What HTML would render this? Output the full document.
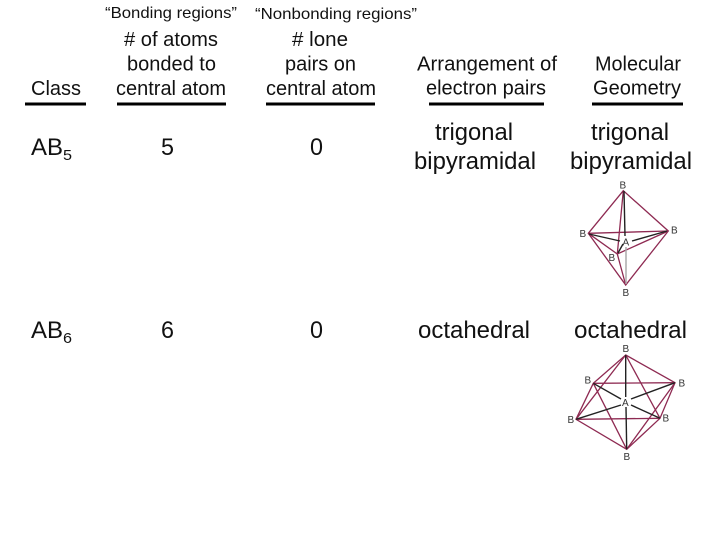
<!DOCTYPE html>
<html>
<head>
<meta charset="utf-8">
<style>
html,body{margin:0;padding:0;background:#fff;}
svg{display:block;}
text{font-family:"Liberation Sans",sans-serif;fill:#111;}
.h{font-size:20px;}
.b{font-size:24px;}
.c{font-size:16px;}
.l{font-size:10px;fill:#333;}
</style>
</head>
<body>
<svg width="720" height="540" viewBox="0 0 720 540" xmlns="http://www.w3.org/2000/svg">
<rect width="720" height="540" fill="#fff"/>

<text class="c" x="105" y="18" textLength="132" lengthAdjust="spacingAndGlyphs">“Bonding regions”</text>
<text class="c" x="255" y="19" textLength="162" lengthAdjust="spacingAndGlyphs">“Nonbonding regions”</text>

<text class="h" x="31" y="95" textLength="50" lengthAdjust="spacingAndGlyphs">Class</text>
<text class="h" x="124" y="46" textLength="94" lengthAdjust="spacingAndGlyphs"># of atoms</text>
<text class="h" x="127" y="70.5" textLength="89" lengthAdjust="spacingAndGlyphs">bonded to</text>
<text class="h" x="116" y="95" textLength="110" lengthAdjust="spacingAndGlyphs">central atom</text>
<text class="h" x="292" y="46" textLength="56" lengthAdjust="spacingAndGlyphs"># lone</text>
<text class="h" x="285" y="70.5" textLength="71" lengthAdjust="spacingAndGlyphs">pairs on</text>
<text class="h" x="266" y="95" textLength="110" lengthAdjust="spacingAndGlyphs">central atom</text>
<text class="h" x="417" y="70.5" textLength="140" lengthAdjust="spacingAndGlyphs">Arrangement of</text>
<text class="h" x="426" y="94.5" textLength="120" lengthAdjust="spacingAndGlyphs">electron pairs</text>
<text class="h" x="595" y="70.5" textLength="86" lengthAdjust="spacingAndGlyphs">Molecular</text>
<text class="h" x="593" y="94.5" textLength="88" lengthAdjust="spacingAndGlyphs">Geometry</text>

<g fill="#000">
<rect x="25" y="102.5" width="61" height="3"/>
<rect x="117" y="102.5" width="109" height="3"/>
<rect x="266" y="102.5" width="109" height="3"/>
<rect x="429" y="102.5" width="115" height="3"/>
<rect x="592" y="102.5" width="91" height="3"/>
</g>

<text class="b" x="31" y="155" textLength="32" lengthAdjust="spacingAndGlyphs">AB</text>
<text x="63" y="160" font-size="15" textLength="9" lengthAdjust="spacingAndGlyphs">5</text>
<text class="b" x="161" y="155" textLength="13" lengthAdjust="spacingAndGlyphs">5</text>
<text class="b" x="310" y="155" textLength="13" lengthAdjust="spacingAndGlyphs">0</text>
<text class="b" x="435" y="140" textLength="78" lengthAdjust="spacingAndGlyphs">trigonal</text>
<text class="b" x="414" y="169" textLength="122" lengthAdjust="spacingAndGlyphs">bipyramidal</text>
<text class="b" x="591" y="140" textLength="78" lengthAdjust="spacingAndGlyphs">trigonal</text>
<text class="b" x="570" y="169" textLength="122" lengthAdjust="spacingAndGlyphs">bipyramidal</text>

<text class="b" x="31" y="338" textLength="32" lengthAdjust="spacingAndGlyphs">AB</text>
<text x="63" y="343" font-size="15" textLength="9" lengthAdjust="spacingAndGlyphs">6</text>
<text class="b" x="161" y="338" textLength="13" lengthAdjust="spacingAndGlyphs">6</text>
<text class="b" x="310" y="338" textLength="13" lengthAdjust="spacingAndGlyphs">0</text>
<text class="b" x="418" y="338" textLength="112" lengthAdjust="spacingAndGlyphs">octahedral</text>
<text class="b" x="574" y="338" textLength="113" lengthAdjust="spacingAndGlyphs">octahedral</text>

<!-- trigonal bipyramid -->
<g fill="none" stroke="#8e2a52" stroke-width="1.3">
<path d="M623.3 190.7L588.3 233.3L625.7 285L668.3 231Z"/>
<path d="M588.3 233.3L668.3 231"/>
<path d="M623.3 190.7L617.3 254L625.7 285"/>
<path d="M588.3 233.3L617.3 254L668.3 231"/>
</g>
<g fill="none" stroke="#222" stroke-width="1.4">
<path d="M624 191L625 236"/>
<path d="M589 234L620 241"/>
<path d="M667 231L632 241"/>
<path d="M618 253L623 244"/>
</g>
<path d="M626 247L626 284" stroke="#aaa" stroke-width="1.5" fill="none"/>
<text class="l" x="619.5" y="188.5">B</text>
<text class="l" x="579.5" y="237">B</text>
<text class="l" x="671" y="233.5">B</text>
<text class="l" x="608.5" y="261">B</text>
<text class="l" x="622.5" y="296">B</text>
<text class="l" x="622.5" y="245.5">A</text>

<!-- octahedron -->
<g fill="none" stroke="#8e2a52" stroke-width="1.3">
<path d="M625.7 355L675 382.7L660 418.3L626.7 449.3L576 419.3L593.3 383.3Z"/>
<path d="M593.3 383.3L675 382.7"/>
<path d="M576 419.3L660 418.3"/>
<path d="M625.7 355L576 419.3"/>
<path d="M625.7 355L660 418.3"/>
<path d="M593.3 383.3L626.7 449.3"/>
<path d="M675 382.7L626.7 449.3"/>
</g>
<g fill="none" stroke="#222" stroke-width="1.4">
<path d="M625.7 355L625.7 397"/>
<path d="M626 407L626.7 449.3"/>
<path d="M593.3 383.3L621 399"/>
<path d="M631 405L660 418.3"/>
<path d="M675 382.7L631 399"/>
<path d="M621 405L576 419.3"/>
</g>
<text class="l" x="622.5" y="352">B</text>
<text class="l" x="584.5" y="383.5">B</text>
<text class="l" x="678.5" y="386.5">B</text>
<text class="l" x="567.5" y="423">B</text>
<text class="l" x="662.5" y="421.5">B</text>
<text class="l" x="623.5" y="460">B</text>
<text class="l" x="622" y="406">A</text>
</svg>
</body>
</html>
